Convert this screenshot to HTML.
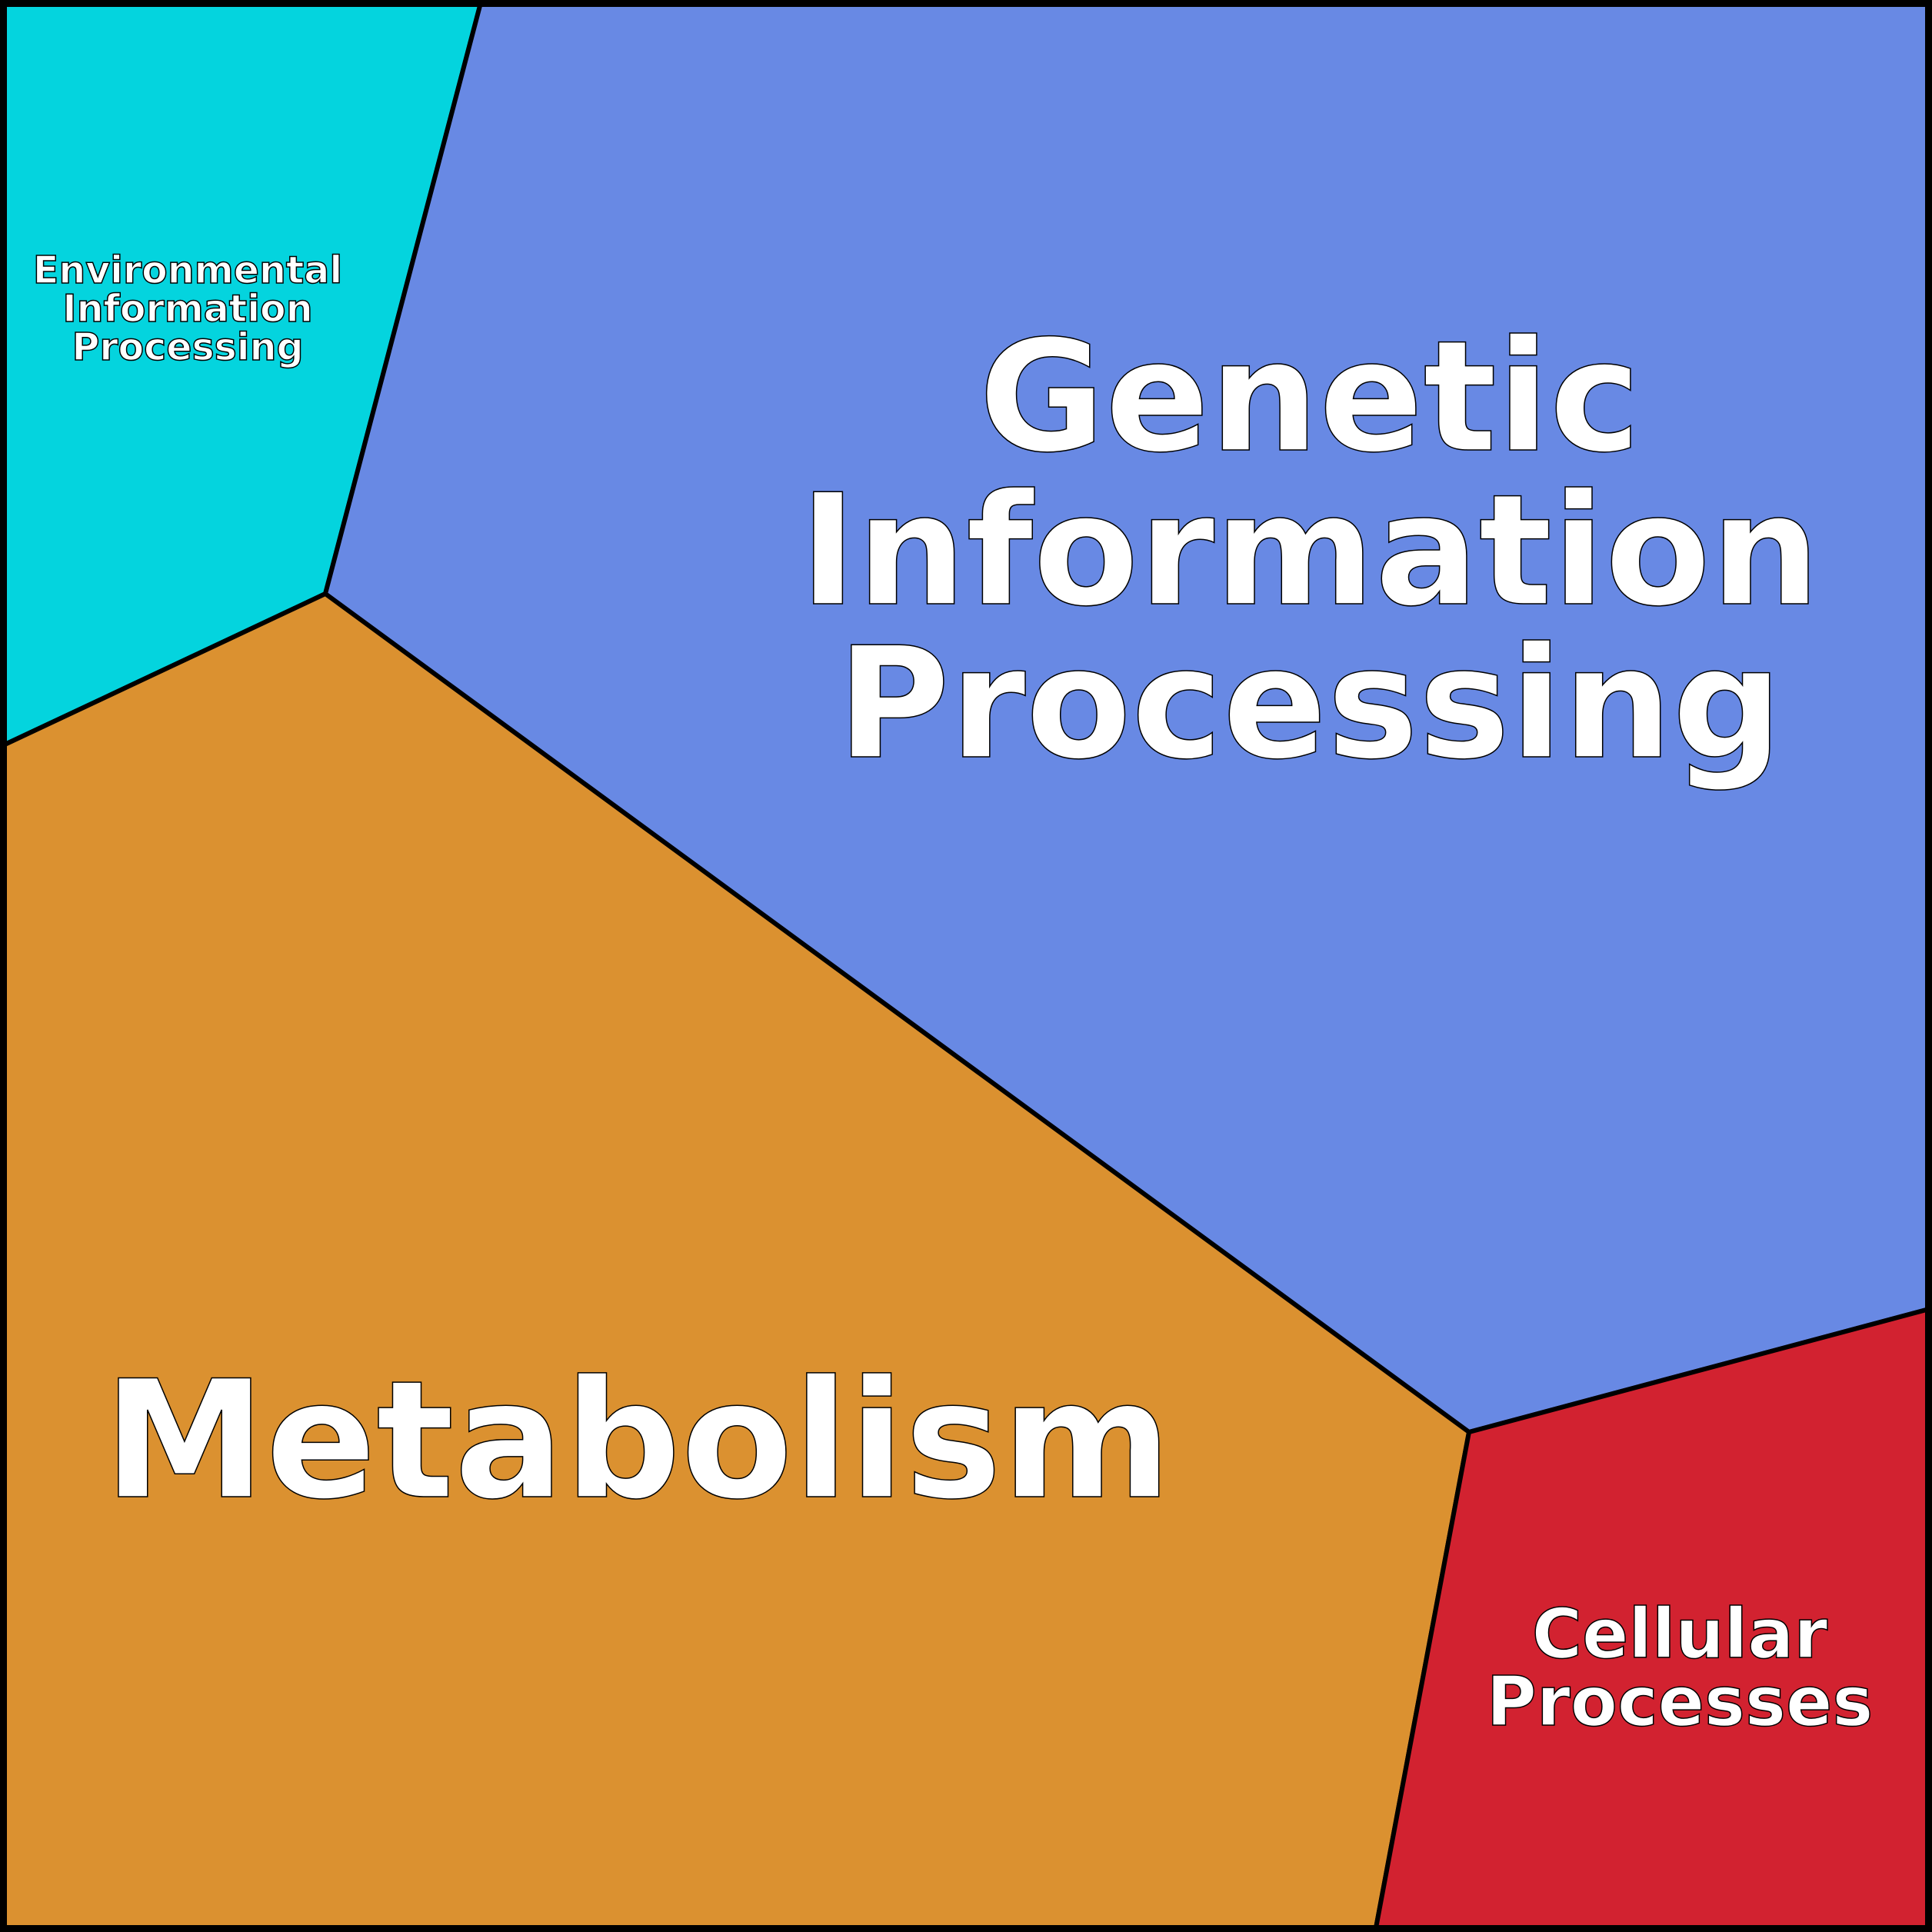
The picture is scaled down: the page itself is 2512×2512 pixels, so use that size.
<!DOCTYPE html>
<html><head><meta charset="utf-8"><style>html,body{margin:0;padding:0;background:#fff}svg{display:block}</style></head>
<body>
<svg width="2512" height="2512" viewBox="0 0 2512 2512" xmlns="http://www.w3.org/2000/svg">
<g stroke="#000" stroke-width="6" stroke-linejoin="round">
<polygon points="0,0 626,0 423,772 0,971" fill="#04d4de"/>
<polygon points="626,0 2512,0 2512,1701 1910,1862 423,772" fill="#6889e4"/>
<polygon points="0,971 423,772 1910,1862 1788,2512 0,2512" fill="#db9130"/>
<polygon points="1910,1862 2512,1701 2512,2512 1788,2512" fill="#d22230"/>
</g>
<rect x="4" y="4" width="2504" height="2504" fill="none" stroke="#000" stroke-width="10"/>
<g font-family="'DejaVu Sans','Liberation Sans',sans-serif" font-weight="bold" fill="#fff" stroke="#000" stroke-width="1.5" text-anchor="middle">
<text x="1703" y="585" font-size="200">Genetic</text>
<text x="1703" y="785" font-size="200">Information</text>
<text x="1703" y="984" font-size="200">Processing</text>
<text x="829" y="1946" font-size="212">Metabolism</text>
<text x="2184" y="2155" font-size="89">Cellular</text>
<text x="2184" y="2243" font-size="89">Processes</text>
<g font-size="49">
<text x="244" y="368">Environmental</text>
<text x="244" y="418">Information</text>
<text x="244" y="468">Processing</text>
</g>
</g>
</svg>
</body></html>
